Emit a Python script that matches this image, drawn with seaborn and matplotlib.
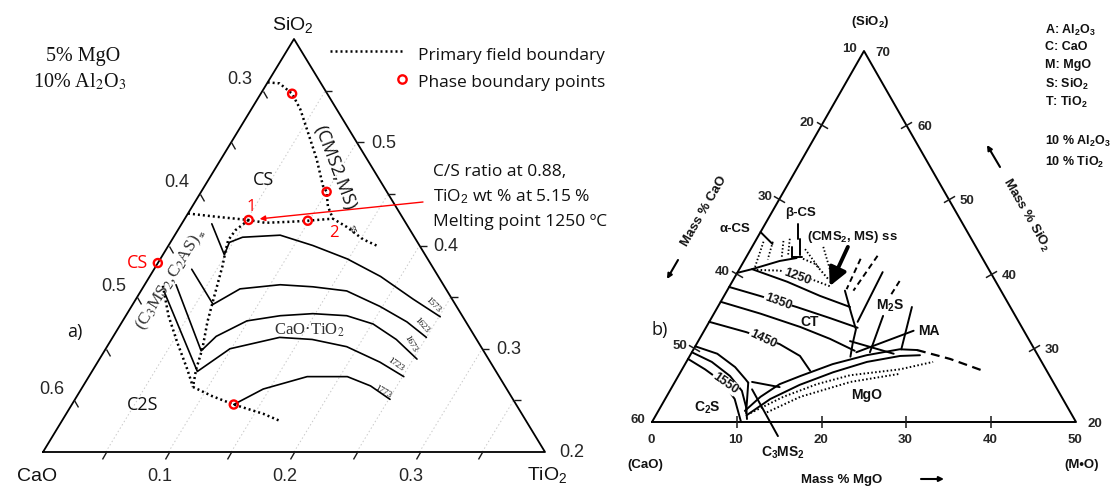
import numpy as np
import matplotlib
matplotlib.use("Agg")
import matplotlib.pyplot as plt
from matplotlib.lines import Line2D
from matplotlib.path import Path
import seaborn as sns

# ---------------------------------------------------------------------------
# a) CaO-SiO2-TiO2 section at 5% MgO and 10% Al2O3, compositions as wt% (TiO2, SiO2)
# ---------------------------------------------------------------------------
cs_cms_tio2 = [0.0, 1.0, 2.5, 3.9, 5.6, 7.6, 9.4, 10.0, 10.8, 11.8, 13.3, 15.2, 16.8]
cs_cms_sio2 = [55.8, 55.7, 54.7, 53.2, 51.0, 48.4, 45.8, 45.2, 43.8, 42.6, 41.8, 40.6, 39.9]
cs_ct_tio2 = [0.0, 2.3, 5.15, 6.6, 8.6, 9.9, 11.8]
cs_ct_sio2 = [43.1, 42.8, 42.47, 42.2, 42.3, 42.4, 42.6]
ct_ss_tio2 = [5.15, 4.6, 4.5, 4.8, 5.3, 6.1, 6.8, 7.7, 8.2, 8.8]
ct_ss_sio2 = [42.47, 41.5, 40.5, 39.5, 38.0, 35.1, 32.6, 30.0, 28.0, 26.3]
ss_left_tio2 = [1.5, 3.4, 5.4, 7.5, 8.8]
ss_left_sio2 = [36.1, 33.2, 30.6, 28.0, 26.3]
c2s_ct_tio2 = [8.8, 10.8, 12.9, 15.7, 17.4]
c2s_ct_sio2 = [26.3, 25.4, 24.6, 23.7, 23.0]

# liquidus isotherms (K)
iso1573_tio2 = [2.4, 4.9, 4.7, 5.5, 8.4, 11.5, 14.9, 18.4, 22.1, 25.1]
iso1573_sio2 = [42.1, 39.1, 40.3, 40.8, 41.0, 40.0, 38.7, 37.0, 34.8, 33.1]
iso1623_tio2 = [3.0, 6.4, 7.8, 10.8, 13.5, 16.4, 19.8, 22.7, 25.0]
iso1623_sio2 = [37.7, 34.3, 35.8, 36.2, 36.0, 35.6, 34.1, 32.6, 31.1]
iso1673_tio2 = [2.5, 7.7, 8.2, 9.9, 12.3, 14.8, 17.6, 20.1, 22.7, 25.3]
iso1673_sio2 = [36.2, 29.8, 31.2, 32.7, 33.2, 33.4, 33.2, 32.4, 30.9, 29.0]
iso1723_tio2 = [2.0, 8.4, 9.9, 13.3, 16.0, 19.1, 22.5, 25.1]
iso1723_sio2 = [35.4, 27.8, 30.0, 31.1, 30.9, 30.2, 28.7, 27.3]
iso1773_tio2 = [12.9, 14.5, 17.4, 20.6, 22.9, 25.1]
iso1773_sio2 = [24.6, 26.1, 27.3, 27.3, 26.4, 25.1]

# phase boundary points
pts_tio2 = [2.5, 10.0, 5.15, 9.9, 0.0, 12.9]
pts_sio2 = [54.7, 45.2, 42.47, 42.4, 38.3, 24.6]
point1 = (5.15, 42.47)   # C/S = 0.88, TiO2 = 5.15 %
point2 = (9.9, 42.4)

# axis ticks (wt fraction x 100)
a_bottom_ticks = [5, 10, 15, 20, 25, 30, 35]
a_bottom_labels = [10, 20, 30]
a_left_ticks = [30, 35, 40, 45, 50, 55, 60]
a_left_labels = [30, 40, 50, 60]
a_right_ticks = [25, 30, 35, 40, 45, 50, 55]
a_right_labels = [20, 30, 40, 50]

# ---------------------------------------------------------------------------
# b) CaO-SiO2-MgO section at 10% Al2O3 and 10% TiO2, compositions as mass% (MgO, SiO2)
# ---------------------------------------------------------------------------
b_ct_top_mgo = [0.0, 1.5, 6.5, 11.3, 15.6]
b_ct_top_sio2 = [40.1, 40.6, 38.9, 37.0, 35.5]
b_iso1250_mgo = [2.1, 4.9, 9.0, 12.1]
b_iso1250_sio2 = [40.5, 40.4, 39.3, 38.2]
b_cs_solid_mgo = [1.5, 4.2, 6.0]
b_cs_solid_sio2 = [40.6, 41.7, 42.1]
b_cs_dot_mgo = [6.8, 8.6, 11.1]
b_cs_dot_sio2 = [42.0, 41.3, 39.3]
b_iso1350_mgo = [0.0, 4.2, 9.3, 14.0, 17.9]
b_iso1350_sio2 = [38.2, 37.0, 35.5, 34.0, 32.7]
b_ct_low_mgo = [0.0, 5.5, 11.1, 15.4, 19.1]
b_ct_low_sio2 = [36.2, 34.6, 32.8, 31.2, 29.6]
b_iso1450_mgo = [0.0, 5.1, 9.8, 13.0, 15.2]
b_iso1450_sio2 = [33.5, 32.1, 30.5, 28.9, 26.9]
b_iso1550a_mgo = [0.0, 3.1, 6.1, 8.1, 8.7]
b_iso1550a_sio2 = [30.2, 29.2, 27.4, 25.8, 25.3]
b_iso1550b_mgo = [0.0, 3.0, 6.1, 8.5, 10.1, 11.0]
b_iso1550b_sio2 = [29.4, 28.1, 26.2, 24.2, 22.0, 20.4]
b_iso1550c_mgo = [0.0, 2.7, 5.6, 8.2, 10.5]
b_iso1550c_sio2 = [28.5, 27.1, 25.4, 23.1, 20.0]
b_mgo_a_mgo = [10.2, 11.1, 12.5, 14.4, 17.4, 20.8, 24.3, 26.4]
b_mgo_a_sio2 = [21.5, 23.4, 25.1, 26.2, 27.8, 29.0, 29.8, 29.7]
b_mgo_ext_mgo = [26.4, 30.9, 35.6]
b_mgo_ext_sio2 = [29.7, 28.5, 26.9]
b_mgo_b_mgo = [10.7, 12.4, 14.9, 18.0, 21.3, 24.8, 27.1]
b_mgo_b_sio2 = [20.9, 23.1, 25.0, 26.7, 28.1, 28.9, 29.0]
b_mgo_d1_mgo = [11.0, 13.8, 16.9, 20.2, 25.7, 29.1]
b_mgo_d1_sio2 = [21.2, 23.4, 25.1, 26.3, 27.1, 28.1]
b_mgo_d2_mgo = [12.9, 15.8, 19.0, 20.7, 26.0]
b_mgo_d2_sio2 = [21.3, 23.4, 24.7, 25.4, 26.5]
b_ct_right_mgo = [13.9, 16.2, 17.8, 18.4, 19.0]
b_ct_right_sio2 = [37.7, 34.6, 32.5, 30.5, 28.8]

# short solid boundaries (MgO start, SiO2 start, MgO end, SiO2 end)
b_solid_segments = [
    (8.7, 25.3, 10.5, 21.2), (9.1, 25.4, 12.7, 24.7),
    (17.1, 40.2, 17.5, 33.5), (20.1, 34.3, 21.0, 29.4),
    (22.9, 35.5, 24.5, 29.8), (24.7, 32.3, 19.4, 29.4),
    (17.9, 30.9, 23.9, 29.2), (3.9, 46.7, 4.9, 44.7),
    (0.0, 45.6, 2.2, 44.0), (4.7, 43.6, 5.4, 42.2),
    (5.4, 42.2, 6.6, 42.2), (5.1, 44.7, 6.2, 42.5),
    (15.8, 18.1, 9.6, 24.4),
]
b_dotted_segments = [
    (1.0, 44.3, 1.7, 40.9), (2.1, 44.3, 2.7, 41.9), (3.3, 44.4, 4.2, 42.2),
    (3.9, 44.7, 4.8, 42.5), (6.4, 43.3, 9.5, 40.6), (8.4, 43.6, 11.5, 39.5),
]
b_dashed_segments = [
    (15.4, 42.4, 14.9, 37.7), (13.6, 42.0, 14.0, 37.9), (19.7, 39.0, 19.6, 37.0),
]
b_arrow_from = (11.3, 43.6)
b_arrow_to = (11.8, 38.3)

b_left_ticks = [50, 40, 30, 20]          # mass% CaO
b_left_labels = [60, 50, 40, 30, 20, 10]
b_right_ticks = [30, 40, 50, 60]         # mass% SiO2
b_right_labels = [20, 30, 40, 50, 60, 70]
b_bottom_ticks = [10, 20, 30, 40]        # mass% MgO
b_bottom_labels = [0, 10, 20, 30, 40, 50]

# ---------------------------------------------------------------------------
sns.set_theme(style="white")
plt.rcParams["font.family"] = ["DejaVu Sans"]
plt.rcParams.update({
    "mathtext.fontset": "custom",
    "mathtext.rm": "Liberation Sans",
    "mathtext.it": "Liberation Sans:italic",
    "mathtext.bf": "Liberation Sans:bold",
    "mathtext.sf": "Liberation Sans",
})

W, H = 1116, 489
fig = plt.figure(figsize=(W / 100, H / 100), dpi=100)


def proj_a(tio2, sio2):
    """Section a): TiO2 0-40 %, SiO2 20-60 % (CaO + SiO2 + TiO2 = 85 %)."""
    v = (np.asarray(sio2, float) - 20.0) / 40.0
    return np.asarray(tio2, float) / 40.0 + v / 2.0, v


def proj_b(mgo, sio2):
    """Section b): MgO 0-50 %, SiO2 20-70 % (CaO + SiO2 + MgO = 80 %)."""
    v = (np.asarray(sio2, float) - 20.0) / 50.0
    return np.asarray(mgo, float) / 50.0 + v / 2.0, v


axA = fig.add_axes([0, 0, 1, 1])
axB = fig.add_axes([0, 0, 1, 1])
limsA = ((-43 / 502, (W - 43) / 502), (-(H - 453) / 413, 453 / 413))
limsB = ((-652 / 424, (W - 652) / 424), (-(H - 423) / 371, 423 / 371))
for ax, lims in ((axA, limsA), (axB, limsB)):
    ax.set_xlim(*lims[0])
    ax.set_ylim(*lims[1])
    ax.axis("off")
    ax.patch.set_alpha(0)


def curve(ax, proj, u, v, **kw):
    x, y = proj(u, v)
    kw.setdefault("color", "black")
    sns.lineplot(x=x, y=y, sort=False, estimator=None, errorbar=None, ax=ax, **kw)


def ftext(x, y, s, **kw):
    kw.setdefault("ha", "center")
    kw.setdefault("va", "center")
    kw.setdefault("color", "#111111")
    fig.text(x / W, 1 - y / H, s, **kw)


def tick_path(dx, dy, both=False):
    if both:
        return Path([(-dx, -dy), (dx, dy)], [Path.MOVETO, Path.LINETO])
    return Path([(0, 0), (dx, dy)], [Path.MOVETO, Path.LINETO])


DOT = (0, (0.8, 1.2))
SANS = "Liberation Sans"
SERIF = "Liberation Serif"
CAL = "Open Sans"

# ---------------------------- panel a ----------------------------
# grid lines of constant TiO2
for t in a_bottom_ticks:
    curve(axA, proj_a, [t, t], [20, 60 - t], color="#c9c9c9", linewidth=0.7,
          linestyle=(0, (1.5, 2.5)))

# triangle frame
curve(axA, proj_a, [0, 40, 0, 0], [20, 20, 60, 20], linewidth=1.3)

# ticks
xb, yb = proj_a(a_bottom_ticks, [20] * len(a_bottom_ticks))
axA.plot(xb, yb, ls="none", marker=tick_path(-0.5, -0.866), ms=10, mec="k", mew=1.0)
xl, yl = proj_a([0] * len(a_left_ticks), [85 - c for c in a_left_ticks])
axA.plot(xl, yl, ls="none", marker=tick_path(0.5, -0.866), ms=10, mec="k", mew=1.0)
xr, yr = proj_a([60 - s for s in a_right_ticks], a_right_ticks)
axA.plot(xr, yr, ls="none", marker=tick_path(1, 0), ms=10, mec="k", mew=1.0)

for t in a_bottom_labels:
    axA.annotate(f"{t / 100:.1f}", xy=proj_a(t, 20), xytext=(-9, -24),
                 textcoords="offset pixels", ha="center", va="center",
                 fontsize=13, family=SANS)
for c in a_left_labels:
    axA.annotate(f"{c / 100:.1f}", xy=proj_a(0, 85 - c), xytext=(-23, 12),
                 textcoords="offset pixels", ha="center", va="center",
                 fontsize=13, family=SANS)
for s in a_right_labels:
    axA.annotate(f"{s / 100:.1f}", xy=proj_a(60 - s, s), xytext=(14, 0),
                 textcoords="offset pixels", ha="left", va="center",
                 fontsize=13, family=SANS)

# primary field boundaries
for u, v in ((cs_cms_tio2, cs_cms_sio2), (cs_ct_tio2, cs_ct_sio2),
             (ct_ss_tio2, ct_ss_sio2), (ss_left_tio2, ss_left_sio2),
             (c2s_ct_tio2, c2s_ct_sio2)):
    curve(axA, proj_a, u, v, linewidth=1.8, linestyle=DOT)

# isotherms
for u, v in ((iso1573_tio2, iso1573_sio2), (iso1623_tio2, iso1623_sio2),
             (iso1673_tio2, iso1673_sio2), (iso1723_tio2, iso1723_sio2),
             (iso1773_tio2, iso1773_sio2)):
    curve(axA, proj_a, u, v, linewidth=1.2)

# phase boundary points
xp, yp = proj_a(pts_tio2, pts_sio2)
sns.scatterplot(x=xp, y=yp, ax=axA, s=34, facecolor="none", edgecolor="red",
                linewidth=1.7, zorder=6)

axA.annotate("1", xy=proj_a(*point1), xytext=(2, 10), textcoords="offset points",
             ha="center", va="center", color="red", fontsize=12, family=CAL)
axA.annotate("2", xy=proj_a(*point2), xytext=(19, -8), textcoords="offset points",
             ha="center", va="center", color="red", fontsize=12, family=CAL)
axA.annotate("", xy=proj_a(*point1), xytext=(423, H - 203), textcoords="figure pixels",
             arrowprops=dict(arrowstyle="-|>", color="red", lw=1.0, shrinkA=0,
                             shrinkB=8, mutation_scale=8))

# panel a texts
ftext(293, 25, "SiO$_2$", fontsize=14, family=SANS)
ftext(37, 477, "CaO", fontsize=14, family=SANS)
ftext(547, 475, "TiO$_2$", fontsize=14, family=SANS)
ftext(83, 57, "5% MgO", fontsize=14.5, family=SERIF, math_fontfamily="stix")
ftext(80, 82, "10% Al$_2$O$_3$", fontsize=14.5, family=SERIF, math_fontfamily="stix")
ftext(263, 180, "CS", fontsize=13, family=CAL)
ftext(143, 405, "C2S", fontsize=13, family=CAL)
ftext(75, 332, "a)", fontsize=13, family=CAL)
ftext(138, 263, "CS", fontsize=13, family=CAL, color="red")
ftext(309, 330, "CaO·TiO$_2$", fontsize=12, family=SERIF, math_fontfamily="stix",
      color="#333333")
ftext(335, 168, "(CMS2,MS)", fontsize=13, family=CAL, rotation=-69)
ftext(352, 229, "ss", fontsize=6.5, family=CAL, rotation=-69)
ftext(169, 283, "(C$_3$MS$_2$,C$_2$AS)", fontsize=12.5, family=SERIF,
      math_fontfamily="stix", rotation=58, color="#333333")
ftext(203, 234, "ss", fontsize=6, family=SERIF, rotation=58)
for s, (x, y, r) in zip(["1573", "1623", "1673", "1723", "1773"],
                        [(433, 305, -45), (422, 325, -48), (410, 344, -60),
                         (396, 364, -35), (383, 392, -30)]):
    ftext(x, y, s, fontsize=6.5, family=SERIF, rotation=r)

ftext(433, 172, "C/S ratio at 0.88,", fontsize=12.5, family=CAL, ha="left")
ftext(433, 197, "TiO$_2$ wt % at 5.15 %", fontsize=12.5, family=CAL, ha="left")
ftext(433, 222, "Melting point 1250 ºC", fontsize=12.5, family=CAL, ha="left")

# legend keys
fig.add_artist(Line2D([330 / W, 403 / W], [1 - 52 / H] * 2, transform=fig.transFigure,
                      color="black", linestyle=DOT, linewidth=1.8))
fig.add_artist(Line2D([402 / W], [1 - 80 / H], transform=fig.transFigure, marker="o",
                      ms=6, mfc="none", mec="red", mew=1.7, ls="none"))
ftext(418, 56, "Primary field boundary", fontsize=12.5, family=CAL, ha="left")
ftext(418, 83, "Phase boundary points", fontsize=12.5, family=CAL, ha="left")

# ---------------------------- panel b ----------------------------
LW = 1.4
curve(axB, proj_b, [0, 50, 0, 0], [20, 20, 70, 20], linewidth=LW)

xl, yl = proj_b([0] * len(b_left_ticks), [80 - c for c in b_left_ticks])
axB.plot(xl, yl, ls="none", marker=tick_path(0.866, -0.5, both=True), ms=8, mec="k", mew=1.1)
xr, yr = proj_b([70 - s for s in b_right_ticks], b_right_ticks)
axB.plot(xr, yr, ls="none", marker=tick_path(0.866, 0.5, both=True), ms=8, mec="k", mew=1.1)
xb, yb = proj_b(b_bottom_ticks, [20] * len(b_bottom_ticks))
axB.plot(xb, yb, ls="none", marker=tick_path(0, 1, both=True), ms=8, mec="k", mew=1.1)

for c in b_left_labels:
    axB.annotate(f"{c}", xy=proj_b(0, 80 - c), xytext=(-7, 3), textcoords="offset pixels",
                 ha="right", va="center", fontsize=9.5, family=SANS, weight="bold")
for s in b_right_labels:
    axB.annotate(f"{s}", xy=proj_b(70 - s, s), xytext=(11, -1), textcoords="offset pixels",
                 ha="left", va="center", fontsize=9.5, family=SANS, weight="bold")
for m in b_bottom_labels:
    axB.annotate(f"{m}", xy=proj_b(m, 20), xytext=(-1, -17), textcoords="offset pixels",
                 ha="center", va="center", fontsize=9.5, family=SANS, weight="bold")

for u, v in ((b_ct_top_mgo, b_ct_top_sio2), (b_cs_solid_mgo, b_cs_solid_sio2),
             (b_iso1350_mgo, b_iso1350_sio2), (b_ct_low_mgo, b_ct_low_sio2),
             (b_iso1450_mgo, b_iso1450_sio2), (b_iso1550a_mgo, b_iso1550a_sio2),
             (b_iso1550b_mgo, b_iso1550b_sio2), (b_iso1550c_mgo, b_iso1550c_sio2),
             (b_mgo_a_mgo, b_mgo_a_sio2), (b_mgo_b_mgo, b_mgo_b_sio2),
             (b_ct_right_mgo, b_ct_right_sio2)):
    curve(axB, proj_b, u, v, linewidth=LW)
for seg in b_solid_segments:
    curve(axB, proj_b, [seg[0], seg[2]], [seg[1], seg[3]], linewidth=LW)
for u, v in ((b_iso1250_mgo, b_iso1250_sio2), (b_cs_dot_mgo, b_cs_dot_sio2),
             (b_mgo_d1_mgo, b_mgo_d1_sio2), (b_mgo_d2_mgo, b_mgo_d2_sio2)):
    curve(axB, proj_b, u, v, linewidth=1.4, linestyle=DOT)
for seg in b_dotted_segments:
    curve(axB, proj_b, [seg[0], seg[2]], [seg[1], seg[3]], linewidth=1.3, linestyle=DOT)
curve(axB, proj_b, b_mgo_ext_mgo, b_mgo_ext_sio2, linewidth=1.6, linestyle=(0, (4, 2.5)))
for seg in b_dashed_segments:
    curve(axB, proj_b, [seg[0], seg[2]], [seg[1], seg[3]], linewidth=1.4,
          linestyle=(0, (3, 2)))

axB.annotate("", xy=proj_b(*b_arrow_to), xytext=proj_b(*b_arrow_from),
             arrowprops=dict(arrowstyle="-|>,head_length=0.9,head_width=0.45",
                             color="black", lw=2.8, shrinkA=0, shrinkB=0))

BOLD = dict(family=SANS, weight="bold", color="#111111")
ftext(870, 22, "(SiO$_{\\mathbf{2}}$)", fontsize=9.5, **BOLD)
ftext(645, 465, "(CaO)", fontsize=9.5, **BOLD)
ftext(1082, 465, "(M•O)", fontsize=9.5, **BOLD)
ftext(704, 211, "Mass % CaO", fontsize=9.5, rotation=60, **BOLD)
ftext(1026, 215, "Mass % SiO$_{\\mathbf{2}}$", fontsize=9.5, rotation=-60, **BOLD)
ftext(842, 480, "Mass % MgO", fontsize=9.5, **BOLD)
for xy, xyt in (((667, H - 280), (678, H - 261)), ((987, H - 146), (1000, H - 168)),
                ((944, H - 480), (921, H - 480))):
    axB.annotate("", xy=xy, xycoords="figure pixels", xytext=xyt,
                 textcoords="figure pixels",
                 arrowprops=dict(arrowstyle="-|>", color="black", lw=1.5,
                                 shrinkA=0, shrinkB=0, mutation_scale=7))

legend_rows = [
    (30, "A: Al$_{\\mathbf{2}}$O$_{\\mathbf{3}}$"), (47, "C: CaO"), (65, "M: MgO"),
    (84, "S: SiO$_{\\mathbf{2}}$"), (102, "T: TiO$_{\\mathbf{2}}$"),
    (141, "10 % Al$_{\\mathbf{2}}$O$_{\\mathbf{3}}$"), (162, "10 % TiO$_{\\mathbf{2}}$"),
]
for y, s in legend_rows:
    ftext(1045, y, s, fontsize=9, ha="left", **BOLD)

ftext(750, 229, "α-CS", fontsize=9.5, ha="right", **BOLD)
ftext(800, 213, "β-CS", fontsize=9.5, **BOLD)
ftext(852, 237, "(CMS$_{\\mathbf{2}}$, MS) ss", fontsize=9.5, **BOLD)
box = dict(fc="white", ec="none", pad=0.4)
ftext(797, 277, "1250", fontsize=9, rotation=-20, bbox=box, **BOLD)
ftext(778, 302, "1350", fontsize=9, rotation=-20, bbox=box, **BOLD)
ftext(763, 339, "1450", fontsize=9, rotation=-25, bbox=box, **BOLD)
ftext(725, 384, "1550", fontsize=9, rotation=-35, bbox=box, **BOLD)
ftext(810, 322, "CT", fontsize=10, **BOLD)
ftext(890, 306, "M$_{\\mathbf{2}}$S", fontsize=10, **BOLD)
ftext(929, 331, "MA", fontsize=10, **BOLD)
ftext(867, 395, "MgO", fontsize=10, **BOLD)
ftext(707, 408, "C$_{\\mathbf{2}}$S", fontsize=10, **BOLD)
ftext(783, 453, "C$_{\\mathbf{3}}$MS$_{\\mathbf{2}}$", fontsize=10, **BOLD)
ftext(660, 330, "b)", fontsize=13, family=CAL)

for ax, lims in ((axA, limsA), (axB, limsB)):
    ax.set_xlim(*lims[0])
    ax.set_ylim(*lims[1])

fig.savefig("out.png", dpi=100)
